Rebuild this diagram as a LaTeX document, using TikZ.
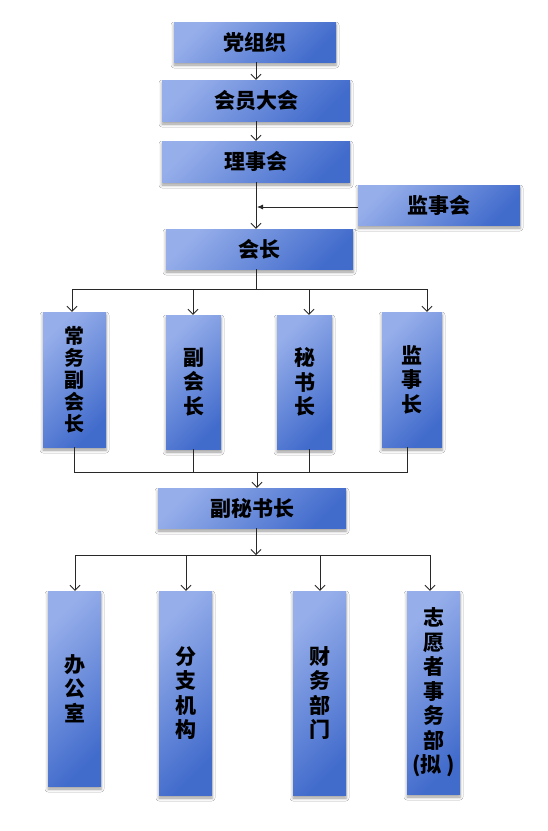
\documentclass[tikz,border=0pt]{standalone}
\usepackage{fontspec}
\newfontfamily\cjk{Noto Sans CJK SC}
\usetikzlibrary{arrows.meta,shadows.blur,calc}
\definecolor{lb}{RGB}{150,174,234}
\definecolor{db}{RGB}{66,108,204}
\definecolor{shc}{RGB}{196,210,244}
\definecolor{ln}{RGB}{40,40,40}
\begin{document}
\begin{tikzpicture}[x=1pt,y=-1pt,
  box/.style={draw=none, top color=lb, bottom color=db, shading angle=45, inner sep=0pt,
     blur shadow={fill=shc, shadow xshift=0pt, shadow yshift=-3pt, shadow blur radius=3pt},
     font=\cjk\bfseries\fontsize{21}{24.5}\selectfont, align=center, text=black},
  hbox/.style={box, minimum height=40pt},
  conn/.style={draw=ln, line width=0.8pt},
  arr/.style={conn, -{Straight Barb[length=5pt,width=10pt]}},
]
\useasboundingbox[fill=white] (0,0) rectangle (548,831);

% top chain
\node[hbox, minimum width=162pt] (dz) at (255,42) {党组织};
\node[hbox, minimum width=188pt, minimum height=41pt] (hy) at (256,100.5) {会员大会};
\node[hbox, minimum width=188pt, minimum height=41pt] (ls) at (256,161.5) {理事会};
\node[hbox, minimum width=162pt] (jsh) at (439,205) {监事会};
\node[hbox, minimum width=187pt] (hz) at (259.5,249) {会长};

% second row
\node[box, minimum width=63pt, minimum height=135pt, font=\cjk\bfseries\fontsize{20}{22}\selectfont] (cw) at (74.5,379.5) {常\\务\\副\\会\\长};
\node[box, minimum width=55pt, minimum height=134pt] (fh) at (193.5,382) {副\\会\\长};
\node[box, minimum width=55pt, minimum height=134pt] (ms) at (304.5,382) {秘\\书\\长};
\node[box, minimum width=60pt, minimum height=135pt] (js) at (412,379.5) {监\\事\\长};

\node[hbox, minimum width=188pt] (fm) at (252,508) {副秘书长};

% third row
\node[box, minimum width=53pt, minimum height=195pt] (bg) at (74.5,688.5) {办\\公\\室};
\node[box, minimum width=53pt, minimum height=204pt] (fz) at (185.5,693) {分\\支\\机\\构};
\node[box, minimum width=53pt, minimum height=204pt] (cb) at (319.5,693) {财\\务\\部\\门};
\node[box, minimum width=53pt, minimum height=203pt] (zy) at (433.5,692.5) {志\\愿\\者\\事\\务\\部\\(拟 )};

% trunk
\coordinate (tr) at (256,0);
\draw[arr] (tr |- dz.south) -- (tr |- hy.north);
\draw[arr] (tr |- hy.south) -- (tr |- ls.north);
\draw[arr] (tr |- ls.south) -- (tr |- hz.north);
\coordinate (jp) at (257,207);
\draw[conn, -{Latex[length=6pt,width=5pt]}] (jsh.west |- jp) -- (jp);

% bus 1
\coordinate (b0) at (256,289);
\coordinate (b1) at (72,289);
\coordinate (b2) at (193,289);
\coordinate (b3) at (309,289);
\coordinate (b4) at (427,289);
\draw[conn] (tr |- hz.south) -- (b0);
\draw[conn] (b1) -- (b4);
\draw[arr] (b1) -- (b1 |- cw.north);
\draw[arr] (b2) -- (b2 |- fh.north);
\draw[arr] (b3) -- (b3 |- ms.north);
\draw[arr] (b4) -- (b4 |- js.north);

% bus 2
\coordinate (c0) at (257,472);
\coordinate (c1) at (74,472);
\coordinate (c2) at (193,472);
\coordinate (c3) at (309,472);
\coordinate (c4) at (407,472);
\draw[conn] (c1 |- cw.south) -- (c1) -- (c4) -- (c4 |- js.south);
\draw[conn] (c2 |- fh.south) -- (c2);
\draw[conn] (c3 |- ms.south) -- (c3);
\draw[arr] (c0) -- (c0 |- fm.north);

% bus 3
\coordinate (d0) at (256,555);
\coordinate (d1) at (75,555);
\coordinate (d2) at (186,555);
\coordinate (d3) at (320,555);
\coordinate (d4) at (430,555);
\draw[arr] (d0 |- fm.south) -- (d0);
\draw[conn] (d1) -- (d4);
\draw[arr] (d1) -- (d1 |- bg.north);
\draw[arr] (d2) -- (d2 |- fz.north);
\draw[arr] (d3) -- (d3 |- cb.north);
\draw[arr] (d4) -- (d4 |- zy.north);
\end{tikzpicture}
\end{document}
